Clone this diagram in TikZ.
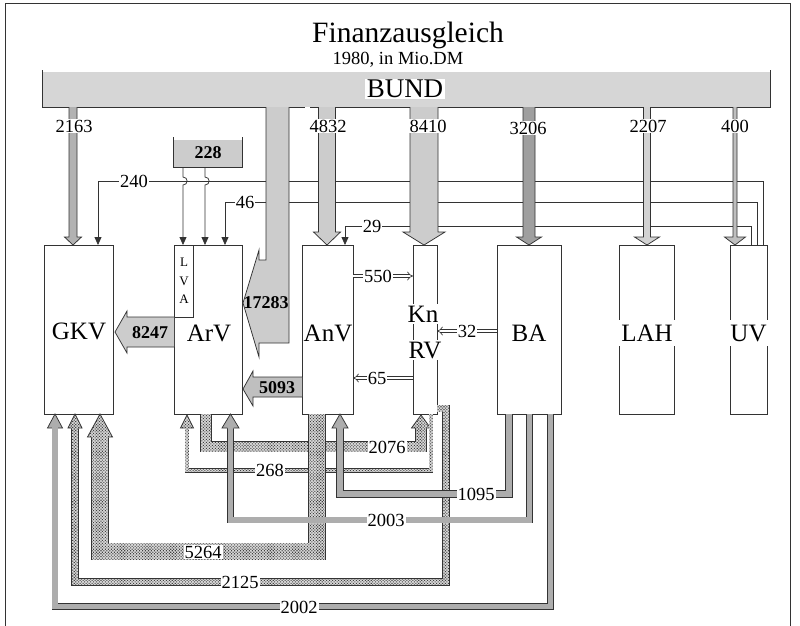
\documentclass[tikz,border=0pt]{standalone}
\usepackage{fontspec}
\setmainfont{Liberation Serif}
\usetikzlibrary{arrows.meta,patterns.meta}
\definecolor{bandgray}{gray}{0.68}
\definecolor{dotbase}{gray}{0.85}
\definecolor{outc}{gray}{0.2}
\tikzset{
  outl/.style={draw=outc, line width=0.75pt, line join=miter},
  boxshape/.style={draw=outc, line width=0.85pt, fill=white, inner sep=0pt},
  boxlbl/.style={fill=white, inner sep=0.5pt, font=\fontsize{25}{27}\selectfont},
  numlbl/.style={fill=white, inner sep=1pt, font=\fontsize{18.5}{19}\selectfont},
  boldlbl/.style={inner sep=0pt, font=\fontsize{18}{19}\selectfont\bfseries},
  thinline/.style={draw=outc, line width=0.75pt},
  tri/.style={-{Triangle[length=8pt,width=7pt]}},
  dbl/.style={draw=outc, double=white, double distance=2.4pt, line width=0.65pt, -{Implies[scale=1.5]}},
  dotpat/.style={pattern={Dots[distance=2.1pt, radius=0.75pt, angle=45]}, pattern color=black!75},
}
% down arrow from BUND: x, half shaft, half head, head base y, fill
\newcommand\downarr[5]{%
  \filldraw[fill=#5, outl] ({#1-#2},107) -- ({#1-#2},#4) -- ({#1-#3},#4) -- (#1,245) -- ({#1+#3},#4) -- ({#1+#2},#4) -- ({#1+#2},107);}
% bands
\newcommand\gband[3]{%
  \draw[line width=#1, draw=outc, line join=miter] #3;
  \draw[line width=#2, draw=bandgray, line join=miter] #3;}
\newcommand\dband[3]{%
  \draw[line width=#1, draw=outc, line join=miter] #3;
  \draw[line width=#2, draw=dotbase, line join=miter] #3;}
% heads: x, base y, tip y, inner half width, half head
\newcommand\ghead[5]{%
  \fill[bandgray] ({#1-#4},{#2+0.8}) -- ({#1-#4},#2) -- ({#1-#5},#2) -- (#1,#3) -- ({#1+#5},#2) -- ({#1+#4},#2) -- ({#1+#4},{#2+0.8}) -- cycle;
  \draw[outl] ({#1-#4-0.35},#2) -- ({#1-#5},#2) -- (#1,#3) -- ({#1+#5},#2) -- ({#1+#4+0.35},#2);}
\newcommand\dhead[5]{%
  \fill[dotbase] ({#1-#4},{#2+0.8}) -- ({#1-#4},#2) -- ({#1-#5},#2) -- (#1,#3) -- ({#1+#5},#2) -- ({#1+#4},#2) -- ({#1+#4},{#2+0.8}) -- cycle;
  \fill[dotpat] ({#1-#4},{#2+0.8}) -- ({#1-#4},#2) -- ({#1-#5},#2) -- (#1,#3) -- ({#1+#5},#2) -- ({#1+#4},#2) -- ({#1+#4},{#2+0.8}) -- cycle;
  \draw[outl] ({#1-#4-0.35},#2) -- ({#1-#5},#2) -- (#1,#3) -- ({#1+#5},#2) -- ({#1+#4+0.35},#2);}
\begin{document}
\begin{tikzpicture}[x=1pt,y=-1pt]
\useasboundingbox (0,0) rectangle (800,625);
\fill[white] (0,0) rectangle (800,625);
% frame
\draw[outc, line width=0.8pt] (5,640) -- (5,3) -- (790,3) -- (790,640);
% titles
\node (title) at (408,35) {\fontsize{29.5}{31}\selectfont Finanzausgleich};
\node (sub) at (398,60) {\fontsize{18.5}{20}\selectfont 1980, in Mio.DM};
% BUND bar
\fill[gray!32] (42,72) rectangle (770,107);
\draw[outl, line width=0.9pt] (42,70) -- (42,107) -- (305,107);
\draw[outl, line width=0.9pt] (310,107) -- (770,107) -- (770,70);
\node[fill=white, inner sep=1.5pt, font=\fontsize{27}{29}\selectfont] (bund) at (405,89) {BUND};
% boxes
\node[boxshape, minimum width=69pt, minimum height=169pt] (gkv) at (78.5,329.5) {};
\node[boxshape, minimum width=68pt, minimum height=169pt] (arv) at (208,329.5) {};
\node[boxshape, minimum width=19pt, minimum height=72pt] (lva) at (183.5,281) {};
\node[boxshape, minimum width=51pt, minimum height=169pt] (anv) at (327.5,329.5) {};
\node[boxshape, minimum width=24pt, minimum height=169pt] (knrv) at (425,329.5) {};
\node[boxshape, minimum width=64pt, minimum height=169pt] (ba) at (529,329.5) {};
\node[boxshape, minimum width=55pt, minimum height=169pt] (lah) at (646.5,329.5) {};
\node[boxshape, minimum width=37pt, minimum height=169pt] (uv) at (748.5,329.5) {};
% thin lines
\draw[thinline, tri] (763,245) -- (763,181) -- (98,181) -- (98,245);
\draw[thinline, tri] (757,245) -- (757,202) -- (225,202) -- (225,245);
\draw[thinline, tri] (751,245) -- (751,226) -- (345,226) -- (345,245);
% 228 box
\fill[gray!40] (173,140) rectangle (242,167);
\draw[outl] (173,137) -- (173,167) -- (242,167) -- (242,137);
\node[boldlbl] (n228) at (208,153) {228};
\draw[thinline, tri] (183,167) -- (183,177) .. controls (188.5,177) and (188.5,185) .. (183,185) -- (183,245);
\draw[thinline, tri] (205,167) -- (205,177) .. controls (210.5,177) and (210.5,185) .. (205,185) -- (205,245);
% down arrows from BUND
\downarr{73}{4}{8.5}{237}{gray!60}
\downarr{327}{8.5}{13.5}{232}{gray!40}
\downarr{424}{14}{21}{232}{gray!40}
\downarr{529}{6}{12.5}{237}{gray!75}
\downarr{647}{3.5}{12.5}{237}{gray!35}
\downarr{735}{2}{10.5}{237}{gray!50}
\node[numlbl] (v2163) at (74,126) {2163};
\node[numlbl] (v4832) at (328,126) {4832};
\node[numlbl] (v8410) at (428,126) {8410};
\node[numlbl] (v3206) at (528,128) {3206};
\node[numlbl] (v2207) at (648,126) {2207};
\node[numlbl] (v400) at (735,126) {400};
\node[numlbl] (v240) at (134,181) {240};
\node[numlbl] (v46) at (245,202) {46};
\node[numlbl] (v29) at (372,226) {29};
% 17283
\filldraw[fill=gray!40, outl] (266,107) -- (266,260) -- (259,260) -- (259,250) -- (243,303) -- (259,357) -- (259,343) -- (289,343) -- (289,107);
\node[boldlbl] (v17283) at (266,303) {17283};
% 8247
\filldraw[fill=gray!40, outl] (174,317) -- (127,317) -- (127,311) -- (115,332) -- (127,353) -- (127,347) -- (174,347);
\node[boldlbl] (v8247) at (150,333) {8247};
% 5093
\filldraw[fill=gray!50, outl] (302,377) -- (253,377) -- (253,371) -- (243,389) -- (253,406) -- (253,397) -- (302,397);
\node[boldlbl] (v5093) at (277,388) {5093};
% double arrows
\draw[dbl] (353,276) -- (413,276);
\draw[dbl] (497,331) -- (437,331);
\draw[dbl] (413,378) -- (353,378);
\node[numlbl] (v550) at (378,276) {550};
\node[numlbl] (v32) at (467,331) {32};
\node[numlbl] (v65) at (377,378) {65};
% box labels
\node[boxlbl] (lgkv) at (79,331) {GKV};
\node[boxlbl] (larv) at (209,333) {ArV};
\node[align=center, inner sep=0pt, font=\fontsize{13}{18.5}\selectfont] (llva) at (184,281) {L\\V\\A};
\node[boxlbl] (lanv) at (328,333) {AnV};
\node[boxlbl, inner ysep=2pt] (lkn) at (423,314) {Kn};
\node[boxlbl, inner ysep=2pt] (lrv) at (425,350) {RV};
\node[boxlbl] (lba) at (529,333) {BA};
\node[boxlbl, inner xsep=2pt, inner ysep=5pt] (llah) at (647,333) {LAH};
\node[boxlbl, inner xsep=2pt, inner ysep=5pt] (luv) at (748.5,333) {UV};
% ---- bottom bands ----
% 2076 (ArV -> KnRV), dotted
\dband{11.4pt}{10pt}{(206,414) -- (206,446.5) -- (421,446.5) -- (421,428)}
\fill[dotpat] (201,414) rectangle (211,451.5) (201,441.5) rectangle (426,451.5) (416,428) rectangle (426,451.5);
\dhead{421}{428}{415}{5}{9.5}
% 268 (KnRV -> ArV), dotted
\dband{4.9pt}{3.5pt}{(431,414) -- (431,470.5) -- (187,470.5) -- (187,428)}
\fill[dotpat] (429.25,414) rectangle (432.75,472.25) (185.25,468.75) rectangle (432.75,472.25) (185.25,428) rectangle (188.75,472.25);
\dhead{187}{428}{415}{1.75}{6.5}
% 5264 (AnV -> GKV), dotted
\dband{17.9pt}{16.5pt}{(317,414) -- (317,551.5) -- (100,551.5) -- (100,437)}
\fill[dotpat] (308.75,414) rectangle (325.25,559.75) (91.75,543.25) rectangle (325.25,559.75) (91.75,437) rectangle (108.25,559.75);
\dhead{100}{437}{414}{8.25}{12.5}
% 2125 (KnRV -> GKV), dotted
\dband{7.9pt}{6.5pt}{(437,408.5) -- (446,408.5) -- (446,582) -- (75,582) -- (75,428)}
\fill[dotpat] (437,405.25) rectangle (449.25,411.75) (442.75,405.25) rectangle (449.25,585.25) (71.75,578.75) rectangle (449.25,585.25) (71.75,428) rectangle (78.25,585.25);
\dhead{75}{428}{414}{3.25}{7}
% 1095 (BA -> AnV), gray
\gband{7.9pt}{6.5pt}{(509,414) -- (509,494) -- (340,494) -- (340,428)}
\ghead{340}{428}{414}{3.25}{8}
% 2003 (BA -> ArV), gray
\gband{6.9pt}{5.5pt}{(529.5,414) -- (529.5,520) -- (230.5,520) -- (230.5,428)}
\ghead{230.5}{428}{414}{2.75}{8.5}
% 2002 (BA -> GKV), gray
\gband{6.9pt}{5.5pt}{(550.5,414) -- (550.5,606.5) -- (55,606.5) -- (55,428)}
\ghead{55}{428}{414}{2.75}{7.5}
% band labels
\node[numlbl] (v2076) at (387,447) {2076};
\node[numlbl] (v268) at (270,470.5) {268};
\node[numlbl] (v5264) at (203,552) {5264};
\node[numlbl] (v2125) at (240,582) {2125};
\node[numlbl] (v2002) at (299,607) {2002};
\node[numlbl] (v2003) at (386,520) {2003};
\node[numlbl] (v1095) at (476,494) {1095};
\end{tikzpicture}
\end{document}
